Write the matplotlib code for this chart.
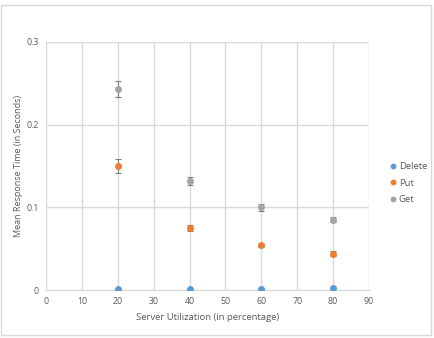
import matplotlib.pyplot as plt
from matplotlib.patches import Rectangle

# Data
utilization = [20, 40, 60, 80]
delete_mean = [0.001, 0.001, 0.001, 0.002]
delete_err = [0.0, 0.0, 0.0, 0.0]
put_mean = [0.150, 0.075, 0.054, 0.044]
put_err = [0.008, 0.004, 0.002, 0.003]
get_mean = [0.243, 0.132, 0.100, 0.085]
get_err = [0.010, 0.005, 0.004, 0.003]

x_ticks = [0, 10, 20, 30, 40, 50, 60, 70, 80, 90]
y_ticks = [0, 0.1, 0.2, 0.3]
y_labels = ["0", "0.1", "0.2", "0.3"]

plt.rcParams["font.family"] = ["Open Sans", "DejaVu Sans"]
text_color = "#595959"
grid_color = "#d9d9d9"

fig = plt.figure(figsize=(4.34, 3.38), dpi=100)
fig.patches.append(Rectangle((0.002, 0.009), 0.991, 0.976, transform=fig.transFigure,
                             fill=False, edgecolor=grid_color, linewidth=1.0))
ax = fig.add_axes([0.106, 0.142, 0.744, 0.734])

series = [
    ("Delete", delete_mean, delete_err, "#5b9bd5"),
    ("Put", put_mean, put_err, "#ed7d31"),
    ("Get", get_mean, get_err, "#a5a5a5"),
]
for name, mean, err, color in series:
    ax.errorbar(utilization, mean, yerr=err, fmt="o", color=color, markersize=4,
                ecolor="#7f7f7f", elinewidth=0.8, capsize=2.5, capthick=0.8,
                label=name, zorder=3)

ax.set_xlim(0, 90)
ax.set_ylim(0, 0.3)
ax.set_xticks(x_ticks)
ax.set_yticks(y_ticks)
ax.set_yticklabels(y_labels)
ax.grid(True, color=grid_color, linewidth=1.0)
ax.set_axisbelow(True)
for side in ["top", "right", "left"]:
    ax.spines[side].set_visible(False)
ax.spines["bottom"].set_color(grid_color)
ax.tick_params(axis="both", length=0, labelsize=6.3, colors=text_color, pad=5)

ax.set_xlabel("Server Utilization (in percentage)", fontsize=6.8, color=text_color, labelpad=5)
ax.set_ylabel("Mean Response Time (in Seconds)", fontsize=6.5, color=text_color, labelpad=3)

handles, labels = ax.get_legend_handles_labels()
handles = [h[0] for h in handles]
leg = fig.legend(handles, labels, loc="center left", bbox_to_anchor=(0.875, 0.458),
                 frameon=False, fontsize=6.8, handletextpad=0.1, handlelength=1.0,
                 labelspacing=0.8, markerscale=0.8)
for t in leg.get_texts():
    t.set_color(text_color)

plt.savefig("out.png", dpi=100)
